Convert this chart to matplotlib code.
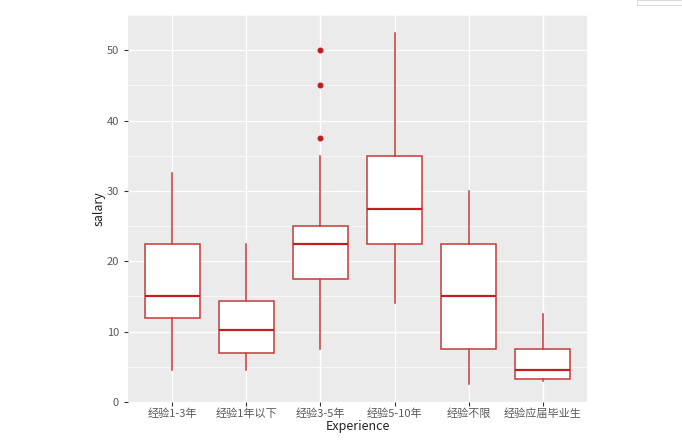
import matplotlib
matplotlib.use("Agg")
import matplotlib.pyplot as plt
from matplotlib.patches import Rectangle

plt.rcParams['font.family'] = ['Noto Sans CJK SC', 'DejaVu Sans']

categories = ["经验1-3年", "经验1年以下", "经验3-5年", "经验5-10年", "经验不限", "经验应届毕业生"]
whisker_low = [4.5, 4.5, 7.5, 14.0, 2.5, 3.0]
q1 = [12.0, 6.9, 17.5, 22.5, 7.5, 3.25]
median = [15.1, 10.3, 22.5, 27.5, 15.0, 4.5]
q3 = [22.5, 14.4, 25.0, 35.0, 22.5, 7.5]
whisker_high = [32.5, 22.5, 35.0, 52.5, 30.0, 12.5]
outliers = [[], [], [50.0, 45.0, 37.5], [], [], []]
yticks = [0, 10, 20, 30, 40, 50]

stats = []
for i, c in enumerate(categories):
    stats.append(dict(label=c, whislo=whisker_low[i], q1=q1[i], med=median[i],
                      q3=q3[i], whishi=whisker_high[i], fliers=outliers[i]))

fig = plt.figure(figsize=(6.82, 4.47), dpi=100)
ax = fig.add_axes([128/682, 1-402/447, (587-128)/682, (402-15)/447])
ax.set_facecolor("#EBEBEB")

edge = "#C43A3A"
positions = list(range(1, len(categories)+1))
ax.bxp(stats, positions=positions, widths=0.75, patch_artist=True, showcaps=False,
       boxprops=dict(facecolor="white", edgecolor=edge, linewidth=1.1),
       medianprops=dict(color="#C01E22", linewidth=1.6),
       whiskerprops=dict(color=edge, linewidth=1.1),
       flierprops=dict(marker='o', markerfacecolor="#C01E22", markeredgecolor="#C01E22",
                       markersize=3.3))

ax.set_xlim(0.4, len(categories)+0.6)
ax.set_ylim(0, 55)
ax.set_yticks(yticks)
ax.set_yticks([5, 15, 25, 35, 45, 55], minor=True)
ax.set_xticks(positions)
ax.set_xticklabels(categories)
ax.grid(True, which='major', color='white', linewidth=1.0)
ax.grid(True, which='minor', axis='y', color='white', linewidth=0.5)
ax.set_axisbelow(True)
for s in ax.spines.values():
    s.set_visible(False)
ax.tick_params(axis='both', which='major', colors="#4D4D4D", labelsize=8, length=3,
               width=0.8, color="#333333")
ax.tick_params(axis='both', which='minor', length=0)
ax.tick_params(axis='x', pad=1.5)
for lbl in ax.get_xticklabels() + ax.get_yticklabels():
    lbl.set_color("#5A5A5A")
ax.set_xlabel("Experience", fontsize=9, color="#222222", labelpad=1)
ax.set_ylabel("salary", fontsize=9, color="#222222", labelpad=1)

fig.patches.append(Rectangle((637/682, 1-5/447), 45/682, 5/447, transform=fig.transFigure,
                             fill=False, edgecolor="#DDDDDD", linewidth=0.8))

fig.savefig("out.png", dpi=100)
